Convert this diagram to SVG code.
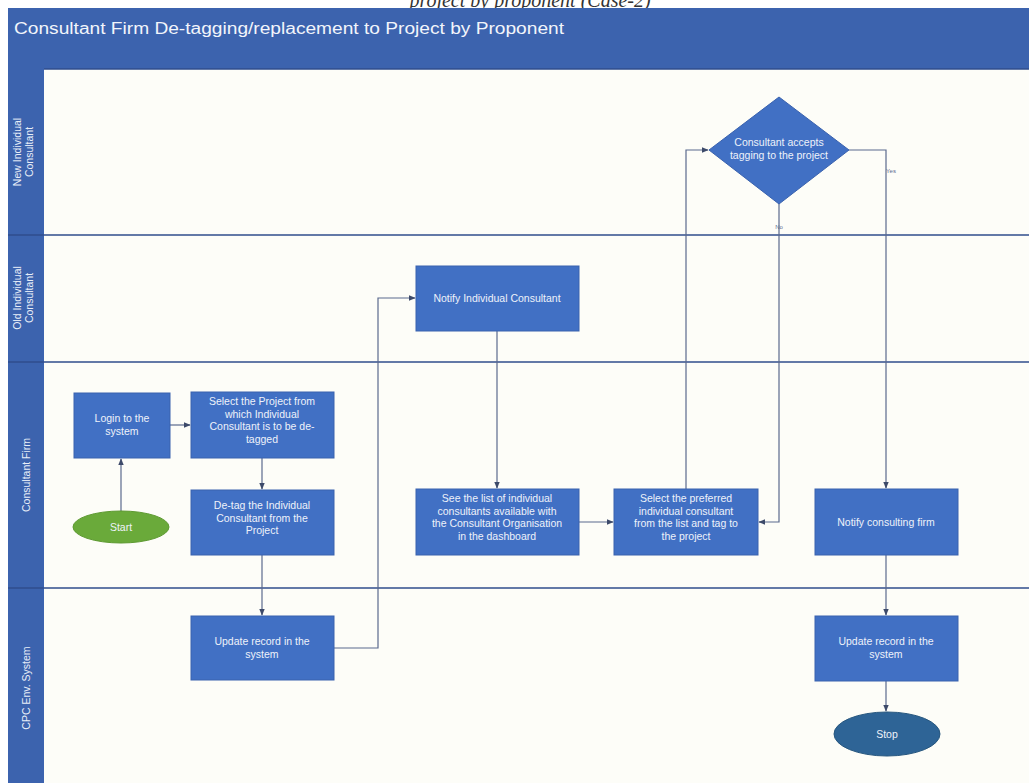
<svg xmlns="http://www.w3.org/2000/svg" width="1029" height="783" viewBox="0 0 1029 783">
  <style>
    .node { fill: #4170C4; stroke: #3A62AE; stroke-width: 1; }
    .ntext { font-family: "Liberation Sans", Arial, sans-serif; font-size: 10.5px; fill: #EEF2FA; text-anchor: middle; }
    .lane { font-family: "Liberation Sans", Arial, sans-serif; font-size: 10.5px; fill: #E8EEF8; text-anchor: middle; }
    .conn { fill: none; stroke: #5B6A8E; stroke-width: 1.2; }
    .divider { stroke: #2F4D8C; stroke-width: 1.5; }
    .lbl { font-family: "Liberation Sans", Arial, sans-serif; font-size: 6px; fill: #5B6A8E; text-anchor: middle; }
  </style>
  <defs>
    <marker id="arrow" viewBox="0 0 10 10" refX="9" refY="5" markerWidth="6" markerHeight="6" orient="auto">
      <path d="M0,1 L10,5 L0,9 z" fill="#3D4A6A"/>
    </marker>
  </defs>

  <rect width="1029" height="783" fill="#FFFFFF"/>
  <!-- page heading, partly hidden behind the pool header -->
  <text x="530" y="7" font-family="Liberation Serif, serif" font-style="italic" font-size="20" fill="#333" text-anchor="middle">project by proponent (Case-2)</text>

  <!-- pool header -->
  <rect x="8" y="8" width="1021" height="61" fill="#3C63AE"/>
  <text x="14" y="34" font-family="Liberation Sans, Arial, sans-serif" font-size="16" fill="#F2F5FB" textLength="550" lengthAdjust="spacingAndGlyphs">Consultant Firm De-tagging/replacement to Project by Proponent</text>

  <!-- lane header column and body -->
  <rect x="8" y="69" width="36" height="714" fill="#3C63AE"/>
  <rect x="44" y="69" width="985" height="714" fill="#FDFDF8"/>
  <line x1="44" y1="69" x2="1029" y2="69" class="divider"/>
  <line x1="8" y1="235" x2="1029" y2="235" class="divider"/>
  <line x1="8" y1="362" x2="1029" y2="362" class="divider"/>
  <line x1="8" y1="588" x2="1029" y2="588" class="divider"/>

  <!-- lane titles -->
  <text class="lane" transform="translate(23,152) rotate(-90)"><tspan x="0" dy="-2">New Individual</tspan><tspan x="0" dy="12">Consultant</tspan></text>
  <text class="lane" transform="translate(23,298) rotate(-90)"><tspan x="0" dy="-2">Old Individual</tspan><tspan x="0" dy="12">Consultant</tspan></text>
  <text class="lane" transform="translate(30,475) rotate(-90)">Consultant Firm</text>
  <text class="lane" transform="translate(30,688) rotate(-90)">CPC Env. System</text>

  <!-- connectors -->
  <g id="connectors">
    <path class="conn" d="M121,511 L121,459" marker-end="url(#arrow)"/>
    <path class="conn" d="M170,425 L190,425" marker-end="url(#arrow)"/>
    <path class="conn" d="M262,458 L262,489" marker-end="url(#arrow)"/>
    <path class="conn" d="M262,555 L262,615" marker-end="url(#arrow)"/>
    <path class="conn" d="M334,648 L378,648 L378,298 L415,298" marker-end="url(#arrow)"/>
    <path class="conn" d="M497,331 L497,488" marker-end="url(#arrow)"/>
    <path class="conn" d="M579,522 L613,522" marker-end="url(#arrow)"/>
    <path class="conn" d="M686,489 L686,150 L708,150" marker-end="url(#arrow)"/>
    <path class="conn" d="M779,204 L779,522 L759,522" marker-end="url(#arrow)"/>
    <path class="conn" d="M849,150 L886,150 L886,488" marker-end="url(#arrow)"/>
    <path class="conn" d="M886,555 L886,615" marker-end="url(#arrow)"/>
    <path class="conn" d="M886,681 L886,711" marker-end="url(#arrow)"/>
    <text class="lbl" x="779" y="229">No</text>
    <text class="lbl" x="891" y="173">Yes</text>
  </g>

  <!-- nodes -->
  <g id="start">
    <ellipse cx="121" cy="527" rx="48" ry="16" fill="#6AAA3A" stroke="#5E9A32"/>
    <text class="ntext" x="121" y="531">Start</text>
  </g>
  <g id="login">
    <rect class="node" x="74" y="393" width="96" height="65"/>
    <text class="ntext" x="122" y="422"><tspan x="122">Login to the</tspan><tspan x="122" dy="12.5">system</tspan></text>
  </g>
  <g id="select-project">
    <rect class="node" x="191" y="392" width="143" height="66"/>
    <text class="ntext" x="262" y="405"><tspan x="262">Select the Project from</tspan><tspan x="262" dy="12.5">which Individual</tspan><tspan x="262" dy="12.5">Consultant is to be de-</tspan><tspan x="262" dy="12.5">tagged</tspan></text>
  </g>
  <g id="detag">
    <rect class="node" x="191" y="490" width="143" height="65"/>
    <text class="ntext" x="262" y="509"><tspan x="262">De-tag the Individual</tspan><tspan x="262" dy="12.5">Consultant from the</tspan><tspan x="262" dy="12.5">Project</tspan></text>
  </g>
  <g id="update-left">
    <rect class="node" x="191" y="616" width="143" height="64"/>
    <text class="ntext" x="262" y="645"><tspan x="262">Update record in the</tspan><tspan x="262" dy="12.5">system</tspan></text>
  </g>
  <g id="notify-individual">
    <rect class="node" x="416" y="266" width="163" height="65"/>
    <text class="ntext" x="497" y="302">Notify Individual Consultant</text>
  </g>
  <g id="see-list">
    <rect class="node" x="416" y="489" width="163" height="66"/>
    <text class="ntext" x="497" y="502"><tspan x="497">See the list of individual</tspan><tspan x="497" dy="12.5">consultants available with</tspan><tspan x="497" dy="12.5">the Consultant Organisation</tspan><tspan x="497" dy="12.5">in the dashboard</tspan></text>
  </g>
  <g id="select-preferred">
    <rect class="node" x="614" y="489" width="144" height="66"/>
    <text class="ntext" x="686" y="502"><tspan x="686">Select the preferred</tspan><tspan x="686" dy="12.5">individual consultant</tspan><tspan x="686" dy="12.5">from the list and tag to</tspan><tspan x="686" dy="12.5">the project</tspan></text>
  </g>
  <g id="accepts-decision">
    <polygon class="node" points="779,97 849,150 779,204 709,150"/>
    <text class="ntext" x="779" y="146"><tspan x="779">Consultant accepts</tspan><tspan x="779" dy="12.5">tagging to the project</tspan></text>
  </g>
  <g id="notify-firm">
    <rect class="node" x="815" y="489" width="143" height="66"/>
    <text class="ntext" x="886" y="526">Notify consulting firm</text>
  </g>
  <g id="update-right">
    <rect class="node" x="815" y="616" width="143" height="65"/>
    <text class="ntext" x="886" y="645"><tspan x="886">Update record in the</tspan><tspan x="886" dy="12.5">system</tspan></text>
  </g>
  <g id="stop">
    <ellipse cx="887" cy="734" rx="53" ry="22" fill="#2E6496" stroke="#27577F"/>
    <text class="ntext" x="887" y="738">Stop</text>
  </g>
</svg>
